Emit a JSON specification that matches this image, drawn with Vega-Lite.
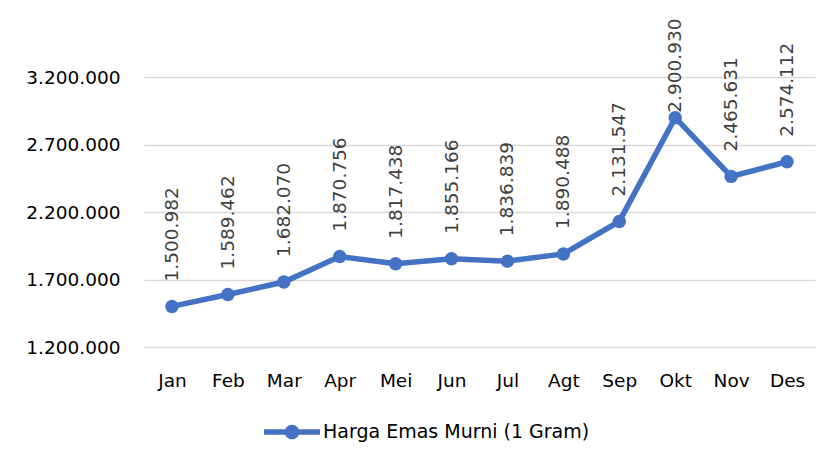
{
  "$schema": "https://vega.github.io/schema/vega-lite/v6.json",
  "autosize": {"type": "none"},
  "padding": {"left": 144, "top": 10, "right": 21, "bottom": 117},
  "width": 671,
  "height": 337,
  "background": "white",
  "config": {
    "view": {"stroke": null},
    "font": "DejaVu Sans"
  },
  "data": {
    "values": [
      {"bulan": "Jan", "harga": 1500982, "label": "1.500.982", "seri": "Harga Emas Murni (1 Gram)"},
      {"bulan": "Feb", "harga": 1589462, "label": "1.589.462", "seri": "Harga Emas Murni (1 Gram)"},
      {"bulan": "Mar", "harga": 1682070, "label": "1.682.070", "seri": "Harga Emas Murni (1 Gram)"},
      {"bulan": "Apr", "harga": 1870756, "label": "1.870.756", "seri": "Harga Emas Murni (1 Gram)"},
      {"bulan": "Mei", "harga": 1817438, "label": "1.817.438", "seri": "Harga Emas Murni (1 Gram)"},
      {"bulan": "Jun", "harga": 1855166, "label": "1.855.166", "seri": "Harga Emas Murni (1 Gram)"},
      {"bulan": "Jul", "harga": 1836839, "label": "1.836.839", "seri": "Harga Emas Murni (1 Gram)"},
      {"bulan": "Agt", "harga": 1890488, "label": "1.890.488", "seri": "Harga Emas Murni (1 Gram)"},
      {"bulan": "Sep", "harga": 2131547, "label": "2.131.547", "seri": "Harga Emas Murni (1 Gram)"},
      {"bulan": "Okt", "harga": 2900930, "label": "2.900.930", "seri": "Harga Emas Murni (1 Gram)"},
      {"bulan": "Nov", "harga": 2465631, "label": "2.465.631", "seri": "Harga Emas Murni (1 Gram)"},
      {"bulan": "Des", "harga": 2574112, "label": "2.574.112", "seri": "Harga Emas Murni (1 Gram)"}
    ]
  },
  "encoding": {
    "x": {
      "field": "bulan", "type": "ordinal", "sort": null,
      "scale": {"type": "point", "padding": 0.5},
      "axis": {
        "title": null, "labelAngle": 0, "domain": false, "ticks": false,
        "labelFontSize": 18.5, "labelColor": "#000000", "labelPadding": 33, "labelBaseline": "middle"
      }
    },
    "y": {
      "field": "harga", "type": "quantitative",
      "scale": {"domain": [1200000, 3700000], "nice": false, "zero": false},
      "axis": {
        "title": null, "domain": false, "ticks": false,
        "values": [1200000, 1700000, 2200000, 2700000, 3200000],
        "labelExpr": "replace(format(datum.value, ',d'), /,/g, '.')",
        "labelFontSize": 18.5, "labelColor": "#000000", "labelPadding": 24,
        "gridColor": "#d9d9d9", "gridWidth": 1.5
      }
    }
  },
  "layer": [
    {
      "mark": {"type": "line", "strokeWidth": 5.5, "point": {"filled": true, "size": 180, "opacity": 1}},
      "encoding": {
        "color": {
          "field": "seri", "type": "nominal",
          "scale": {"range": ["#4472C4"]},
          "legend": {
            "title": null, "orient": "none", "legendX": 120, "legendY": 394,
            "symbolType": "M-1,-0.1H1V0.1H-1Z M0.26,0A0.26,0.26 0 1,1 -0.26,0A0.26,0.26 0 1,1 0.26,0Z",
            "symbolSize": 3136, "symbolStrokeWidth": 0, "symbolFillColor": "#4472C4",
            "labelFontSize": 19, "labelColor": "#000000", "labelOffset": 3, "labelLimit": 500
          }
        }
      }
    },
    {
      "transform": [{"filter": "datum.bulan !== 'Okt'"}],
      "mark": {"type": "text", "angle": 270, "align": "left", "baseline": "middle", "dx": 25, "fontSize": 18.5, "color": "#404040"},
      "encoding": {"text": {"field": "label"}}
    },
    {
      "transform": [{"filter": "datum.bulan === 'Okt'"}],
      "mark": {"type": "text", "angle": 270, "align": "left", "baseline": "middle", "dx": 5, "fontSize": 18.5, "color": "#404040"},
      "encoding": {"text": {"field": "label"}}
    }
  ]
}
